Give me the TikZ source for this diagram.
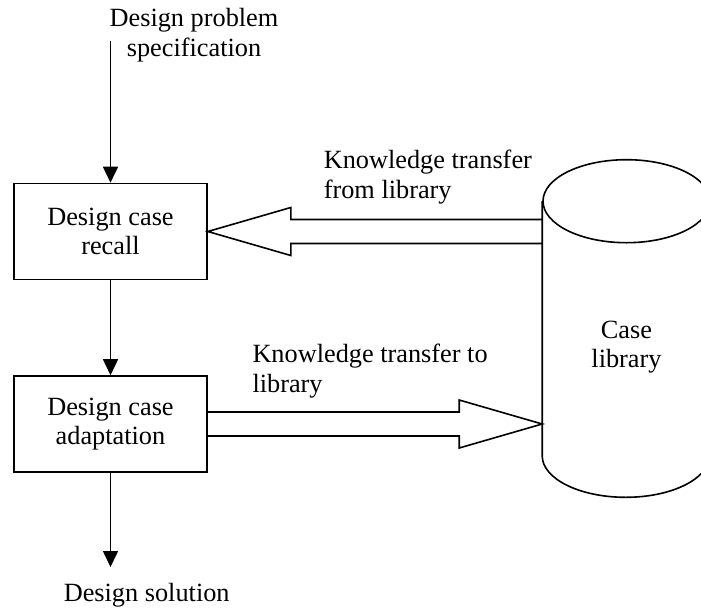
\documentclass[tikz,border=0pt]{standalone}
\usepackage{fontspec}
\setmainfont{Liberation Serif}
\usetikzlibrary{arrows.meta,calc}

\begin{document}
\begin{tikzpicture}[x=1pt, y=-1pt, line width=1.6pt,
  lbl/.style={font=\fontsize{26.3}{29.5}\selectfont, inner sep=0pt, align=center},
  stage/.style={lbl, draw, minimum width=193pt, minimum height=96pt},
  flow/.style={-{Triangle[length=16pt,width=15pt]}},
  block/.style={line join=miter}]
\useasboundingbox (0,0) rectangle (701,608);

% process stages
\node[stage] (recall) at (110.5,231.5) {Design case\\recall};
\node[stage] (adapt)  at (110.5,424)   {Design case\\adaptation};

% case library body (cylinder)
\node[inner sep=0pt, minimum width=167pt, minimum height=253pt] (lib) at (626.5,328.5) {};
\draw (lib.north west) -- (lib.south west)
      arc[start angle=180, end angle=360, x radius=83.5pt, y radius=41.5pt]
      -- (lib.north east);
\draw (lib.north) ellipse[x radius=83.5pt, y radius=41.5pt];
\node[lbl] (libtxt) at (626.5,347) {Case\\library};

% input and output
\node[lbl] (spec) at (194,35) {Design problem\\specification};
\node[lbl] (sol)  at (146.7,595.6) {Design solution};
\coordinate (specend) at (recall.north |- 0,41);
\coordinate (solend)  at (adapt.south |- 0,567);

\draw[flow] (specend) -- (recall.north);
\draw[flow] (recall.south) -- (adapt.north);
\draw[flow] (adapt.south) -- (solend);

% knowledge transfer from the library
\draw[block] (lib.west |- 0,219.5) -| ($(recall.east)+(83,-24)$)
      -- (recall.east) -- ($(recall.east)+(83,24)$) |- (lib.west |- 0,243.5);
\node[lbl, align=left, anchor=west] (kfrom) at (323,177.3) {Knowledge transfer\\from library};

% knowledge transfer to the library
\coordinate (tip2) at (lib.west |- adapt.east);
\draw[block] ($(adapt.east)+(0,-12)$) -| ($(tip2)+(-83,-24)$)
      -- (tip2) -- ($(tip2)+(-83,24)$) |- ($(adapt.east)+(0,12)$);
\node[lbl, align=left, anchor=west] (kto) at (251.7,371) {Knowledge transfer to\\library};
\end{tikzpicture}
\end{document}
